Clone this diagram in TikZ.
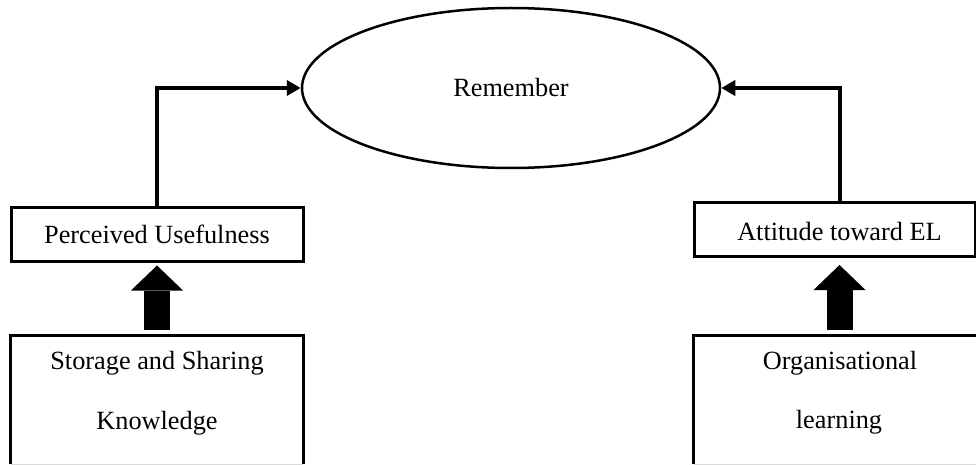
\documentclass[tikz,border=0pt]{standalone}
\usepackage{fontspec}
\setmainfont{Liberation Serif}
\usetikzlibrary{arrows.meta,shapes.geometric,calc}

\tikzset{
  txt/.style={font=\fontsize{26.3pt}{30pt}\selectfont, inner sep=0pt},
  smallbox/.style={draw, line width=3pt, txt, minimum height=54pt},
  bigbox/.style={draw=none, minimum height=129pt, anchor=north},
  frameline/.style={line width=3pt},
  linkarrow/.style={line width=4pt, -{Triangle[length=14pt,width=15pt]}},
  blockarrow/.style={line width=26pt, -{Triangle[length=25pt,width=52pt,line width=0pt]}}
}

\begin{document}
\begin{tikzpicture}[x=1pt,y=-1pt]
  \useasboundingbox (0,0) rectangle (976,465);
  \clip (0,0) rectangle (976,465);

  % central construct
  \node[draw, ellipse, line width=2.5pt, minimum width=418pt, minimum height=160pt, txt]
    (rem) at (511,88) {Remember};

  % mediating constructs
  \node[smallbox, minimum width=292pt] (pu) at (157,234) {Perceived Usefulness};
  \node[smallbox, minimum width=281pt, text depth=0pt] (att) at (834.5,229.5) {};
  \node[txt] (attlabel) at (839.5,232) {Attitude toward EL};

  % antecedent boxes (open at the bottom of the page)
  \node[bigbox, minimum width=292pt] (sk) at (157,335) {};
  \node[bigbox, minimum width=291pt] (ol) at (839.5,335) {};
  \draw[frameline] (sk.south west) |- (sk.north east) -- (sk.south east);
  \draw[frameline] (ol.south west) |- (ol.north east) -- (ol.south east);
  \draw[gray!30, line width=0.8pt] (sk.south west) -- (sk.south east);
  \draw[gray!30, line width=0.8pt] (ol.south west) -- (ol.south east);

  \node[txt] (sktop) at (157,363) {Storage and Sharing};
  \node[txt] (skbot) at (157,423) {Knowledge};
  \node[txt] (oltop) at (840,363) {Organisational};
  \node[txt] (olbot) at (839,422) {learning};

  % links into the central construct
  \coordinate (attTop) at (ol.north |- att.north);
  \draw[linkarrow] (pu.north) |- (rem.west);
  \draw[linkarrow] (attTop) |- (rem.east);

  % block arrows from the antecedents
  \coordinate (puBottom) at (sk.north |- pu.south);
  \coordinate (attBottom) at (ol.north |- att.south);
  \draw[blockarrow, shorten <=5pt, shorten >=3pt] (sk.north) -- (puBottom);
  \draw[blockarrow, shorten <=5pt, shorten >=7pt] (ol.north) -- (attBottom);
\end{tikzpicture}
\end{document}
